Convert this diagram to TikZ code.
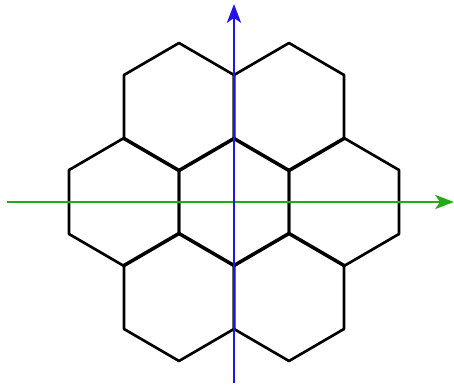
\documentclass[tikz,border=0pt]{standalone}
\usetikzlibrary{arrows.meta}
\definecolor{axblue}{RGB}{35,20,225}
\definecolor{axgreen}{RGB}{35,170,20}
\begin{document}
\begin{tikzpicture}[x=0.75pt,y=-0.75pt,
  hexline/.style={black,line width=2pt,line join=round},
  axisline/.style={line width=2.1pt,-{Stealth[length=14pt,width=10.5pt,inset=3.5pt]}}]
\useasboundingbox (0,0) rectangle (454,385);
\foreach \cx/\cy in {234/202,124/202,344/202,179/107,289/107,179/297,289/297}{
  \draw[hexline] (\cx-55,\cy-32) -- (\cx,\cy-64) -- (\cx+55,\cy-32) -- (\cx+55,\cy+32) -- (\cx,\cy+64) -- (\cx-55,\cy+32) -- cycle;
}
\coordinate (gs) at (7,202);
\coordinate (ge) at (454,202);
\coordinate (bs) at (234,383);
\coordinate (be) at (234,4);
\draw[axisline,axgreen] (gs) -- (ge);
\draw[axisline,axblue] (bs) -- (be);
\end{tikzpicture}
\end{document}
